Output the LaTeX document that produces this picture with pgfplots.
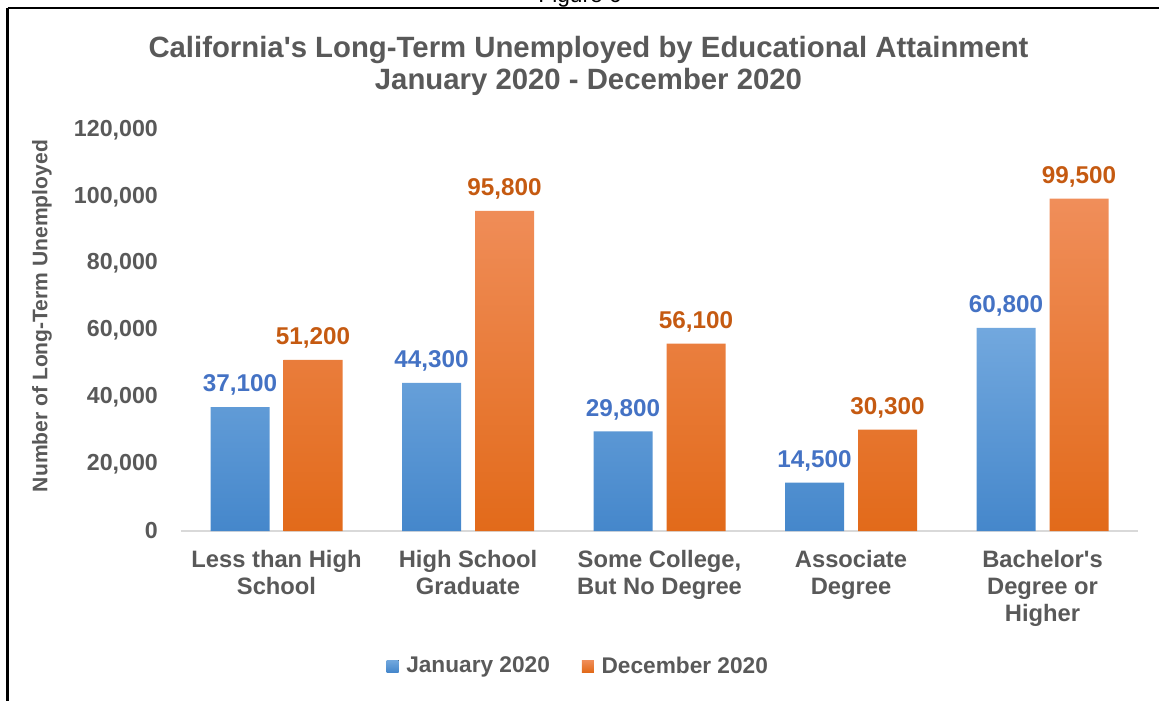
\documentclass[border=0pt]{standalone}
\usepackage{pgfplots}
\pgfplotsset{compat=1.18}
\usepackage{fontspec}
\setmainfont{Liberation Sans}
\definecolor{txt}{HTML}{595959}
\definecolor{bluelab}{HTML}{4472C4}
\definecolor{orglab}{HTML}{C55A11}
\definecolor{bluetop}{HTML}{72A8DE}
\definecolor{bluebot}{HTML}{4587CB}
\definecolor{orgtop}{HTML}{F08E5A}
\definecolor{orgbot}{HTML}{E26A1A}
\definecolor{axgray}{HTML}{D9D9D9}
\begin{document}
\begin{tikzpicture}[x=0.75pt,y=0.75pt]
\useasboundingbox (0,0) rectangle (1159,700);
\node[anchor=base, font=\fontsize{17pt}{20pt}\selectfont] at (580,697) {Figure 6};
\draw[line width=2.2pt] (7.5,692) -- (1175,692);
\draw[line width=2.2pt] (7.5,692) -- (7.5,-10);
\node[anchor=base, font=\bfseries\fontsize{22pt}{26pt}\selectfont, text=txt] at (588.5,642) {California\textquotesingle s Long-Term Unemployed by Educational Attainment};
\node[anchor=base, font=\bfseries\fontsize{22pt}{26pt}\selectfont, text=txt] at (588.5,610) {January 2020 - December 2020};
\begin{axis}[
  at={(135.5625pt,126.75pt)}, anchor=south west,
  scale only axis, width=718.125pt, height=300.75pt,
  xmin=-0.5, xmax=4.5, ymin=0, ymax=120000,
  axis line style={draw=none}, tick style={draw=none},
  xtick={0,1,2,3,4},
  xticklabels={{Less than High\\School},{High School\\Graduate},{Some College,\\But No Degree},{Associate\\Degree},{Bachelor\textquotesingle s\\Degree or\\Higher}},
  xticklabel style={align=center, font=\bfseries\fontsize{17.8pt}{20.25pt}\selectfont, text=txt, inner sep=0pt, anchor=north, yshift=-14.25pt},
  ytick={0,20000,40000,60000,80000,100000,120000},
  scaled y ticks=false,
  yticklabel style={font=\bfseries\fontsize{17.4pt}{20pt}\selectfont, text=txt, inner sep=0pt, anchor=east, xshift=-17pt},
  /pgf/number format/fixed,
  /pgf/number format/precision=0,
  /pgf/number format/1000 sep={,},
  /pgf/number format/assume math mode=true,
  every axis y label/.style={at={(rel axis cs:-0.145,0.536)}, rotate=90, anchor=center, font=\bfseries\fontsize{15.8pt}{18pt}\selectfont, text=txt},
  ylabel={Number of Long-Term Unemployed},
  legend style={at={(rel axis cs:0.4155,-0.3367)}, anchor=center, draw=none, fill=none, inner sep=0pt,
    font=\bfseries\fontsize{17pt}{20pt}\selectfont, text=txt,
    /tikz/every odd column/.append style={column sep=3.75pt},
    /tikz/every even column/.append style={column sep=22pt}},
  legend columns=2,
  legend image code/.code={\fill[#1, draw=none] (0pt,-4.5pt) rectangle (9pt,4.5pt);},
]
\draw[color=axgray, line width=1.5pt] (rel axis cs:0,0) -- (rel axis cs:1,0);
\addplot[ybar, bar width=44.25pt, bar shift=-27.375pt, draw=none, top color=bluetop, bottom color=bluebot,
  nodes near coords, nodes near coords style={text=bluelab, font=\bfseries\fontsize{18.2pt}{20pt}\selectfont, anchor=base, yshift=11.5pt, xshift=-27.375pt}]
  coordinates {(0,37100) (1,44300) (2,29800) (3,14500) (4,60800)};
\addplot[ybar, bar width=44.25pt, bar shift=27.375pt, draw=none, top color=orgtop, bottom color=orgbot,
  nodes near coords, nodes near coords style={text=orglab, font=\bfseries\fontsize{18.2pt}{20pt}\selectfont, anchor=base, yshift=11.5pt, xshift=27.375pt}]
  coordinates {(0,51200) (1,95800) (2,56100) (3,30300) (4,99500)};
\legend{January 2020, December 2020}
\end{axis}
\end{tikzpicture}
\end{document}
